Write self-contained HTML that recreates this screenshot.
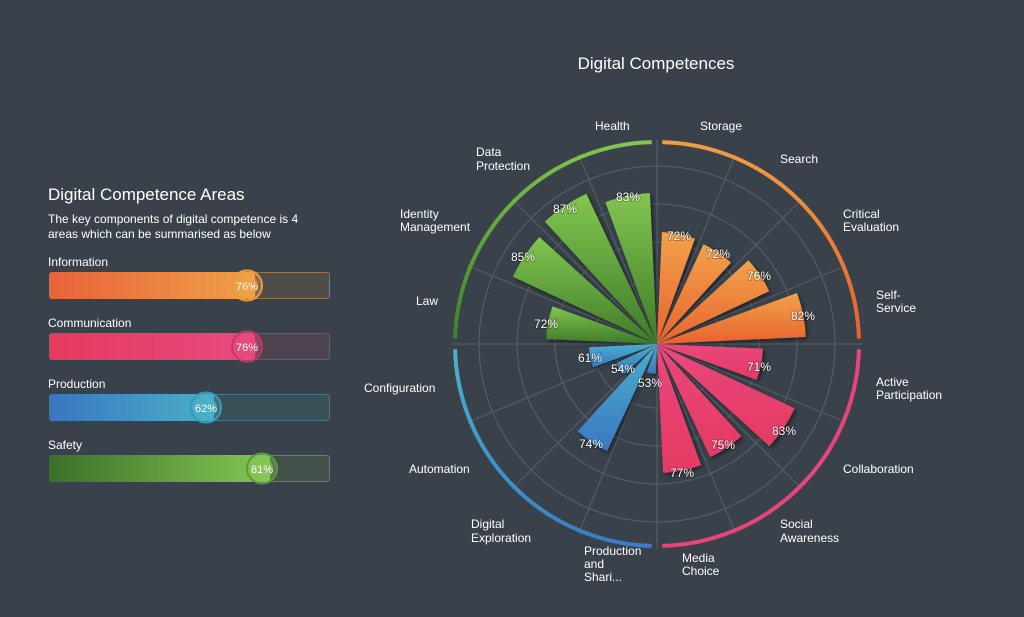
<!DOCTYPE html>
<html><head><meta charset="utf-8"><style>
body{margin:0;background:#39424b;width:1024px;height:617px;overflow:hidden;font-family:"Liberation Sans",sans-serif;color:#fff}
svg{position:absolute;left:0;top:0}
</style></head><body>
<svg id="s" width="1024" height="617" viewBox="0 0 1024 617">
<defs>
<filter id="sh" x="-20%" y="-20%" width="140%" height="140%"><feDropShadow dx="2" dy="2" stdDeviation="2" flood-color="#000" flood-opacity="0.5"/></filter>
<linearGradient id="gO" x1="0" y1="0" x2="0" y2="1"><stop offset="0" stop-color="#f2a24a"/><stop offset="1" stop-color="#e8622e"/></linearGradient>
<linearGradient id="gP" x1="0" y1="0" x2="0" y2="1"><stop offset="0" stop-color="#e8487c"/><stop offset="1" stop-color="#e63a62"/></linearGradient>
<linearGradient id="gB" x1="0" y1="0" x2="0" y2="1"><stop offset="0" stop-color="#4aaed0"/><stop offset="1" stop-color="#3a78c0"/></linearGradient>
<linearGradient id="gG" x1="0" y1="0" x2="0" y2="1"><stop offset="0" stop-color="#82c650"/><stop offset="1" stop-color="#3e7a28"/></linearGradient>
<linearGradient id="aO" x1="0" y1="0" x2="0" y2="1"><stop offset="0" stop-color="#f09e44"/><stop offset="1" stop-color="#e8602e"/></linearGradient>
<linearGradient id="aG" x1="0" y1="1" x2="0" y2="0"><stop offset="0" stop-color="#3f7f28"/><stop offset="1" stop-color="#82c650"/></linearGradient>
<linearGradient id="aB" x1="0" y1="0" x2="0" y2="1"><stop offset="0" stop-color="#4ab4c8"/><stop offset="1" stop-color="#3a7cc8"/></linearGradient>
<linearGradient id="hO" x1="0" x2="1"><stop offset="0" stop-color="#e8623a"/><stop offset="1" stop-color="#f0a048"/></linearGradient>
<linearGradient id="hP" x1="0" x2="1"><stop offset="0" stop-color="#e63a5e"/><stop offset="1" stop-color="#e84a80"/></linearGradient>
<linearGradient id="hB" x1="0" x2="1"><stop offset="0" stop-color="#3a76c0"/><stop offset="1" stop-color="#4ab0c8"/></linearGradient>
<linearGradient id="hG" x1="0" x2="1"><stop offset="0" stop-color="#3a7028"/><stop offset="1" stop-color="#84c854"/></linearGradient>
</defs>
<g id="grid" stroke="#59626b" stroke-width="1" fill="none"></g>
<g id="arcs" fill="none" stroke-width="4"></g>
<g id="bars" filter="url(#sh)"></g>
<g id="vals" font-size="12" fill="#fff" text-anchor="middle" style="paint-order:stroke" stroke="#000" stroke-opacity="0.25" stroke-width="2"></g>
<g font-size="12" fill="#fff">
<text x="700" y="130">Storage</text>
<text x="780" y="163">Search</text>
<text x="843" y="218">Critical</text><text x="843" y="231">Evaluation</text>
<text x="876" y="299">Self-</text><text x="876" y="312">Service</text>
<text x="876" y="386">Active</text><text x="876" y="399">Participation</text>
<text x="843" y="473">Collaboration</text>
<text x="780" y="528">Social</text><text x="780" y="542">Awareness</text>
<text x="682" y="562">Media</text><text x="682" y="575">Choice</text>
<text x="584" y="555">Production</text><text x="584" y="568">and</text><text x="584" y="581">Shari...</text>
<text x="471" y="528">Digital</text><text x="471" y="542">Exploration</text>
<text x="409" y="473">Automation</text>
<text x="364" y="392">Configuration</text>
<text x="416" y="305">Law</text>
<text x="400" y="218">Identity</text><text x="400" y="231">Management</text>
<text x="476" y="156">Data</text><text x="476" y="170">Protection</text>
<text x="595" y="130">Health</text>
<text x="656" y="69" font-size="17" text-anchor="middle">Digital Competences</text>
<text x="48" y="200" font-size="17">Digital Competence Areas</text>
<text x="48" y="223" font-size="12">The key components of digital competence is 4</text>
<text x="48" y="238" font-size="12">areas which can be summarised as below</text>
<text x="48" y="266">Information</text>
<text x="48" y="327">Communication</text>
<text x="48" y="388">Production</text>
<text x="48" y="449">Safety</text>
</g>
<g id="hb"></g>
</svg>
<script>
const cx=657,cy=344,ns="http://www.w3.org/2000/svg";
function el(p,t,a){const e=document.createElementNS(ns,t);for(const k in a)e.setAttribute(k,a[k]);document.getElementById(p).appendChild(e);return e;}
function pt(r,a){a=a*Math.PI/180;return [cx+r*Math.sin(a),cy-r*Math.cos(a)];}
[178,140,102,64,26].forEach(r=>el('grid','circle',{cx,cy,r}));
for(let i=0;i<16;i++){const [x,y]=pt(205,i*22.5);el('grid','line',{x1:cx,y1:cy,x2:x,y2:y});}
function arc(r,a1,a2){const p=pt(r,a1),q=pt(r,a2);return `M${p[0]},${p[1]}A${r},${r} 0 0 1 ${q[0]},${q[1]}`;}
[['url(#aO)',1.5,88.5],['#e8457a',91.5,178.5],['url(#aB)',181.5,268.5],['url(#aG)',271.5,358.5]].forEach(a=>el('arcs','path',{d:arc(202,a[1],a[2]),stroke:a[0]}));
const R=[112,110,124,149,106,152,125,129,30,118,45,68,111,159,166,151];
const G=['gO','gO','gO','gO','gP','gP','gP','gP','gB','gB','gB','gB','gG','gG','gG','gG'];
R.forEach((r,i)=>{const a1=i*22.5+2.5,a2=i*22.5+19.8,p=pt(r,a1),q=pt(r,a2);
el('bars','path',{d:`M${cx},${cy}L${p[0]},${p[1]}A${r},${r} 0 0 1 ${q[0]},${q[1]}Z`,fill:`url(#${G[i]})`});});
[['83%',628,201],['87%',565,213],['85%',523,261],['72%',546,328],['72%',679,240],['72%',718,258],['76%',759,280],['82%',803,320],['71%',759,371],['83%',784,435],['75%',723,449],['77%',682,477],['74%',591,448],['53%',650,387],['54%',623,373],['61%',590,362]].forEach(v=>{const t=el('vals','text',{x:v[1],y:v[2]});t.textContent=v[0];});
[[272,'hO','#f0a048',76,'#e89a40',247],[333,'hP','#e84a7a',76,'#c03a62',247],[394,'hB','#4ab0c8',62,'#3a9ab8',206],[455,'hG','#84c854',81,'#5a9a38',262]].forEach(b=>{
const y=b[0],x0=49,w=280,fx=b[5];
el('hb','rect',{x:x0+0.5,y:y+0.5,width:w,height:26,rx:3,fill:b[2],'fill-opacity':0.12,stroke:b[2],'stroke-opacity':0.5});
el('hb','rect',{x:x0,y,width:fx-x0+8,height:27,rx:3,fill:`url(#${b[1]})`});
el('hb','circle',{cx:fx,cy:y+13.5,r:15,fill:b[2],'fill-opacity':0.35,stroke:b[4],'stroke-width':2});
el('hb','circle',{cx:fx,cy:y+13.5,r:11,fill:b[2],'fill-opacity':0.6});
const t=el('hb','text',{x:fx,y:y+18,'font-size':11,'text-anchor':'middle',fill:'#fff'});t.textContent=b[3]+'%';});
</script>
</body></html>
